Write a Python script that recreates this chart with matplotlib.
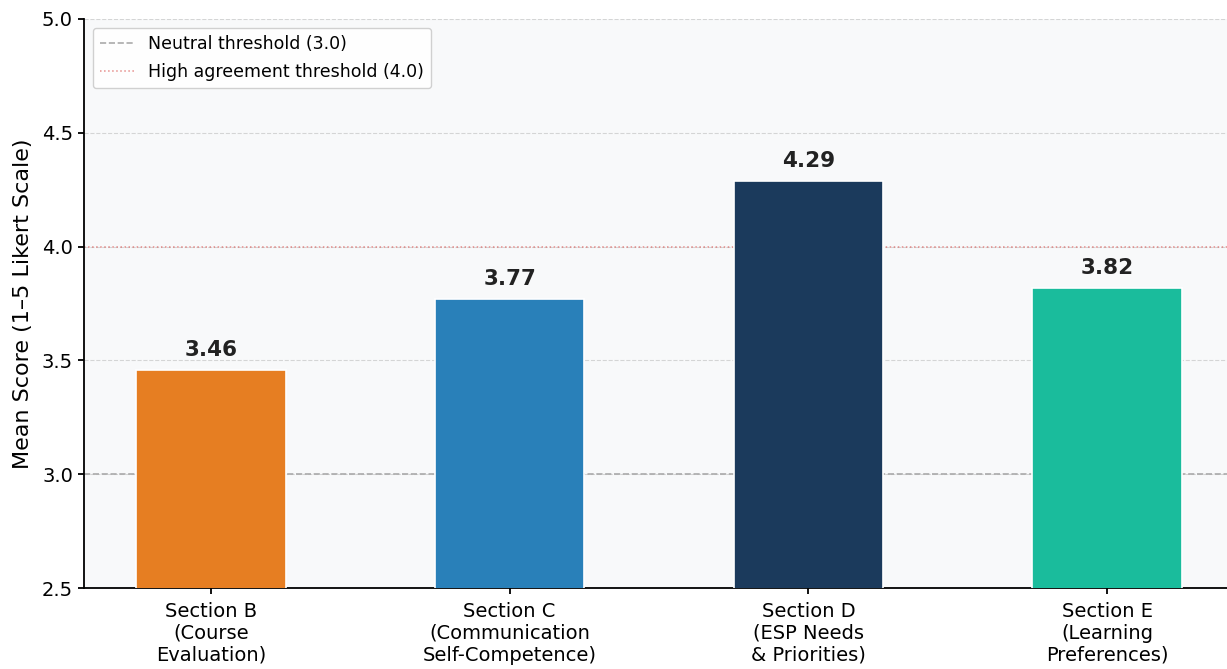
import numpy as np
import matplotlib

matplotlib.use("Agg")
import matplotlib.pyplot as plt

sections = [
    "Section B\n(Course\nEvaluation)",
    "Section C\n(Communication\nSelf-Competence)",
    "Section D\n(ESP Needs\n& Priorities)",
    "Section E\n(Learning\nPreferences)",
]
mean_scores = [3.46, 3.77, 4.29, 3.82]
bar_colors = ["#e67e22", "#2980b9", "#1b3a5c", "#1abc9c"]
neutral = 3.0
high_agree = 4.0

fig = plt.figure(figsize=(12.27, 6.69), dpi=100)
ax = fig.add_axes([84 / 1227, 81 / 669, 1150 / 1227, 569 / 669])
ax.set_facecolor("#f8f9fa")

xs = np.arange(len(sections))
ax.bar(xs, mean_scores, width=0.5, color=bar_colors, edgecolor="white",
       linewidth=1.2, zorder=3)
for x, v in zip(xs, mean_scores):
    ax.annotate(f"{v:.2f}", (x, v), xytext=(0, 7), textcoords="offset points",
                ha="center", va="bottom", fontsize=15.5, fontweight="bold",
                color="#222222", zorder=4)

ax.axhline(neutral, color="#aaaaaa", linestyle="--", lw=1.2, zorder=2,
           label="Neutral threshold (3.0)")
ax.axhline(high_agree, color="#d9534f", linestyle=":", lw=1.1, alpha=0.65,
           zorder=2, label="High agreement threshold (4.0)")

ax.set_ylim(2.5, 5.0)
ax.set_yticks([2.5, 3.0, 3.5, 4.0, 4.5, 5.0])
ax.set_xticks(xs)
ax.set_xticklabels(sections, fontsize=14)
ax.tick_params(axis="x", pad=5.5)
ax.tick_params(axis="y", labelsize=14)
ax.tick_params(width=1.3, length=4.5)
ax.set_ylabel("Mean Score (1\u20135 Likert Scale)", fontsize=16, labelpad=6)
ax.yaxis.grid(True, linestyle="--", color="#cccccc", alpha=0.8, zorder=0)
ax.set_axisbelow(True)
for side in ("top", "right"):
    ax.spines[side].set_visible(False)
for side in ("left", "bottom"):
    ax.spines[side].set_linewidth(1.3)

ax.legend(loc="upper left", fontsize=12.5, framealpha=0.9, labelspacing=0.6)

fig.savefig("out.png", dpi=100)
